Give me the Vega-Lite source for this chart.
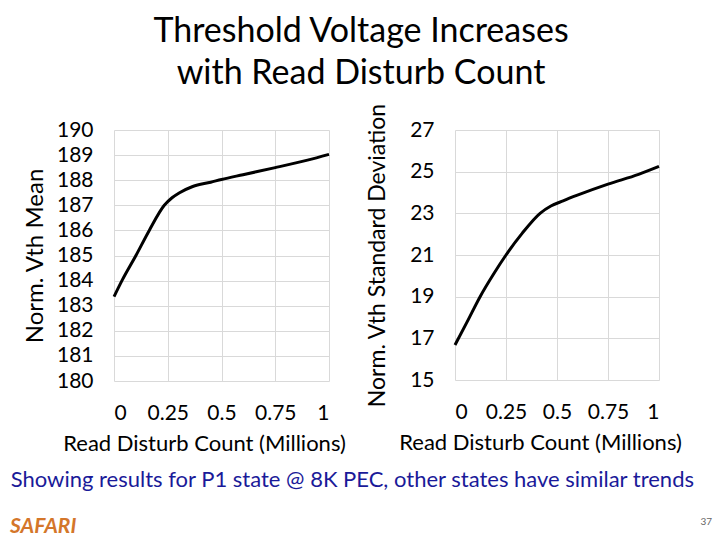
{
  "$schema": "https://vega.github.io/schema/vega-lite/v6.json",
  "background": "white",
  "padding": {"left": 10, "top": 14, "right": 5, "bottom": 2},
  "config": {
    "font": "Lato",
    "view": {"stroke": null},
    "axis": {
      "labelFont": "Lato", "labelFontSize": 21, "labelColor": "#000000",
      "titleFont": "Lato", "titleFontSize": 22, "titleFontWeight": "normal", "titleColor": "#000000",
      "ticks": false, "domain": false, "grid": true, "gridColor": "#d9d9d9", "gridWidth": 1,
      "labelPadding": 21
    }
  },
  "title": {
    "text": ["Threshold Voltage Increases", "with Read Disturb Count"],
    "font": "Lato", "fontSize": 34, "fontWeight": "normal", "color": "#000000",
    "lineHeight": 42, "anchor": "middle", "offset": 12
  },
  "spacing": 22,
  "vconcat": [
    {
      "title": {
        "text": "Showing results for P1 state @ 8K PEC, other states have similar trends",
        "orient": "bottom", "anchor": "middle", "font": "Lato", "fontSize": 22,
        "fontWeight": "normal", "color": "#1a1a99", "offset": 16
      },
      "spacing": 20,
      "hconcat": [
        {
          "width": 215, "height": 251,
          "data": {"values": [
            {"reads": 0, "mean": 183.36},
            {"reads": 0.037, "mean": 184.0},
            {"reads": 0.102, "mean": 185.0},
            {"reads": 0.164, "mean": 186.0},
            {"reads": 0.234, "mean": 187.0},
            {"reads": 0.27, "mean": 187.3},
            {"reads": 0.305, "mean": 187.5},
            {"reads": 0.366, "mean": 187.75},
            {"reads": 0.45, "mean": 187.92},
            {"reads": 0.5, "mean": 188.03},
            {"reads": 0.6, "mean": 188.22},
            {"reads": 0.75, "mean": 188.5},
            {"reads": 0.9, "mean": 188.8},
            {"reads": 1, "mean": 189.03}
          ]},
          "mark": {"type": "line", "color": "#000000", "strokeWidth": 3, "interpolate": "monotone"},
          "encoding": {
            "x": {"field": "reads", "type": "quantitative", "title": "Read Disturb Count (Millions)",
                  "scale": {"domain": [0, 1], "nice": false},
                  "axis": {"values": [0, 0.25, 0.5, 0.75, 1], "format": ".2~f", "titlePadding": 10, "titleX": 90}},
            "y": {"field": "mean", "type": "quantitative", "title": "Norm. Vth Mean",
                  "scale": {"domain": [180, 190], "nice": false, "zero": false},
                  "axis": {"values": [180, 181, 182, 183, 184, 185, 186, 187, 188, 189, 190], "titlePadding": 9, "titleFontSize": 24}}
          }
        },
        {
          "width": 204, "height": 250,
          "data": {"values": [
            {"reads": 0, "sd": 16.68},
            {"reads": 0.06, "sd": 17.8},
            {"reads": 0.123, "sd": 19.0},
            {"reads": 0.19, "sd": 20.1},
            {"reads": 0.25, "sd": 21.0},
            {"reads": 0.33, "sd": 22.05},
            {"reads": 0.417, "sd": 23.0},
            {"reads": 0.47, "sd": 23.35},
            {"reads": 0.53, "sd": 23.6},
            {"reads": 0.6, "sd": 23.87},
            {"reads": 0.75, "sd": 24.4},
            {"reads": 0.9, "sd": 24.87},
            {"reads": 1, "sd": 25.25}
          ]},
          "mark": {"type": "line", "color": "#000000", "strokeWidth": 3, "interpolate": "monotone"},
          "encoding": {
            "x": {"field": "reads", "type": "quantitative", "title": "Read Disturb Count (Millions)",
                  "scale": {"domain": [0, 1], "nice": false},
                  "axis": {"values": [0, 0.25, 0.5, 0.75, 1], "format": ".2~f", "titlePadding": 10, "titleX": 85}},
            "y": {"field": "sd", "type": "quantitative", "title": "Norm. Vth Standard Deviation",
                  "scale": {"domain": [15, 27], "nice": false, "zero": false},
                  "axis": {"values": [15, 17, 19, 21, 23, 25, 27], "titlePadding": 20, "titleFontSize": 23}}
          }
        }
      ]
    },
    {
      "width": 598, "height": 28,
      "layer": [
        {
          "data": {"values": [{"label": "SAFARI", "pos": 0}]},
          "mark": {"type": "text", "align": "left", "baseline": "middle", "font": "Lato", "dx": -104,
                   "fontSize": 21, "fontWeight": "bold", "fontStyle": "italic", "color": "#d4762a"},
          "encoding": {
            "x": {"field": "pos", "type": "quantitative", "scale": {"domain": [0, 1]}, "axis": null},
            "text": {"field": "label"}
          }
        },
        {
          "data": {"values": [{"label": "37", "pos": 1}]},
          "mark": {"type": "text", "align": "right", "baseline": "bottom", "font": "Lato",
                   "fontSize": 10, "color": "#666666"},
          "encoding": {
            "x": {"field": "pos", "type": "quantitative", "scale": {"domain": [0, 1]}, "axis": null},
            "text": {"field": "label"}
          }
        }
      ]
    }
  ]
}
